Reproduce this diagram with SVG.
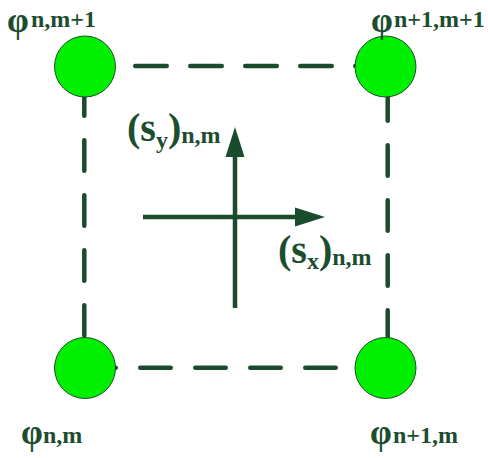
<svg xmlns="http://www.w3.org/2000/svg" width="488" height="458" viewBox="0 0 488 458">
<style>
.dash{fill:none;stroke:#1b4b2d;stroke-width:4.5;stroke-linecap:round}
.ax{fill:none;stroke:#1b4b2d;stroke-width:4.5}
.head{fill:#1b4b2d}
.node{fill:#00f000;stroke:#1b4b2d;stroke-width:1}
.t{font-family:"Liberation Serif","Times New Roman",serif;font-weight:bold;fill:#1b4d2e}
.phi{font-size:35px}
.big{font-size:40px}
.sub{font-size:24px}
</style>
<rect width="488" height="458" fill="#fff"/>
<g id="connectors">
<path class="dash" d="M80.25 66 H390" stroke-dasharray="31.5 23.5"/>
<path class="dash" d="M84.3 85.25 V340" stroke-dasharray="30.5 24.5"/>
<path class="dash" d="M85.25 367.7 H340" stroke-dasharray="30.5 24.5"/>
<path class="dash" d="M387.7 90.25 V345" stroke-dasharray="30.5 24.5"/>
<line class="ax" x1="235" y1="308" x2="235" y2="154"/>
<polygon class="head" points="235,127 225.5,157 244.5,157"/>
<line class="ax" x1="143" y1="217" x2="297" y2="217"/>
<polygon class="head" points="325,217 295,207.5 295,226.5"/>
</g>
<g id="node-nm1">
<circle class="node" cx="85" cy="66.5" r="30.5"/>
<text class="t" y="31.5"><tspan class="phi" x="7">φ</tspan><tspan class="sub" x="31" y="27">n,m+1</tspan></text>
</g>
<g id="node-n1m1">
<circle class="node" cx="385.5" cy="66.5" r="30.5"/>
<text class="t" y="31.5"><tspan class="phi" x="371">φ</tspan><tspan class="sub" x="394" y="27">n+1,m+1</tspan></text>
</g>
<g id="node-nm">
<circle class="node" cx="85" cy="368" r="30.5"/>
<text class="t" y="444"><tspan class="phi" x="21">φ</tspan><tspan class="sub" x="43" y="443">n,m</tspan></text>
</g>
<g id="node-n1m">
<circle class="node" cx="385.5" cy="368" r="30.5"/>
<text class="t" y="444"><tspan class="phi" x="370">φ</tspan><tspan class="sub" x="393" y="443">n+1,m</tspan></text>
</g>
<g id="label-sy">
<text class="t" y="141"><tspan class="big" x="127">(s</tspan><tspan class="sub" y="148">y</tspan><tspan class="big" y="141">)</tspan><tspan class="sub" y="143">n,m</tspan></text>
</g>
<g id="label-sx">
<text class="t" y="263"><tspan class="big" x="278">(s</tspan><tspan class="sub" y="269">x</tspan><tspan class="big" y="263">)</tspan><tspan class="sub" y="265">n,m</tspan></text>
</g>
</svg>
